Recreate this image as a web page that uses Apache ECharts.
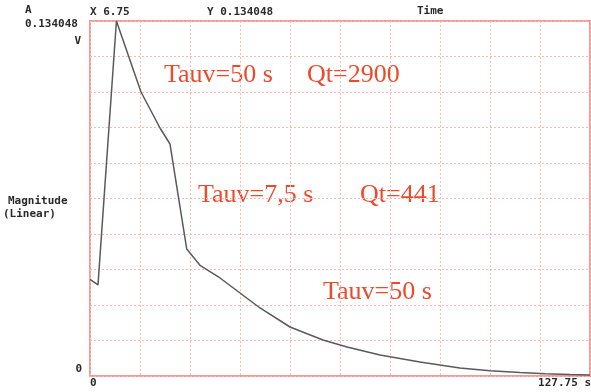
<!DOCTYPE html>
<html>
<head>
<meta charset="utf-8">
<script src="https://cdn.jsdelivr.net/npm/echarts@6/dist/echarts.min.js"></script>
<style>html,body{margin:0;padding:0;background:#fff}#c{width:591px;height:392px}</style>
</head>
<body>
<div id="c"></div>
<script>
// Time (s)
const timeValues = [0, 2.04, 6.75, 13.03, 17.89, 20.44, 24.71, 28.1, 33.22, 38.33, 43.44, 51.1, 59.53, 65.67, 74.1, 84.3, 94.5, 102.2, 109.9, 116.3, 122.6, 127.75];
// Magnitude (V)
const magnitudeValues = [0.0365, 0.0344, 0.134048, 0.10724, 0.09365, 0.0876, 0.04796, 0.04180, 0.03701, 0.03134, 0.02568, 0.0185, 0.01359, 0.01095, 0.00793, 0.00529, 0.00302, 0.00200, 0.00132, 0.00085, 0.00057, 0.0004];
const xMax = 127.75;
const yMax = 0.134048;
const headerLabels = ['A', '0.134048', 'V', 'X 6.75', 'Y 0.134048', 'Time'];
const yAxisTitle = ['Magnitude', '(Linear)'];
const tickLabels = ['0', '0', '127.75 s'];
const annotations = ['Tauv=50 s', 'Qt=2900', 'Tauv=7,5 s', 'Qt=441', 'Tauv=50 s'];

const chart = echarts.init(document.getElementById('c'));
const mono = {fontFamily: 'DejaVu Sans Mono', fontWeight: 'bold', fontSize: 11, fill: '#2a2a2a'};
const serif = {fontFamily: 'Liberation Serif', fontSize: 26, fill: '#ec4a2c'};
function mt(x, y, text, align) {
  return {type: 'text', x: x, y: y, style: Object.assign({text: text, align: align || 'left', verticalAlign: 'middle'}, mono)};
}
function st(x, y, text) {
  return {type: 'text', x: x, y: y, style: Object.assign({text: text, align: 'left', verticalAlign: 'top'}, serif)};
}
const data = timeValues.map((t, i) => [t, magnitudeValues[i]]);
chart.setOption({
  animation: false,
  backgroundColor: '#fff',
  grid: {left: 90, top: 21, width: 500, height: 355, show: true, borderColor: '#f49a9a', borderWidth: 2, backgroundColor: 'transparent'},
  xAxis: {
    type: 'value', min: 0, max: xMax, interval: xMax / 10,
    axisLine: {show: false}, axisTick: {show: false}, axisLabel: {show: false},
    splitLine: {show: true, lineStyle: {color: '#f7b8b8', type: [2, 2], width: 1}}
  },
  yAxis: {
    type: 'value', min: 0, max: yMax, interval: yMax / 10,
    axisLine: {show: false}, axisTick: {show: false}, axisLabel: {show: false},
    splitLine: {show: true, lineStyle: {color: '#f7b8b8', type: [2, 2], width: 1}}
  },
  series: [{
    type: 'line', data: data, showSymbol: false, smooth: false,
    lineStyle: {color: '#5a5a5a', width: 1.5}
  }],
  graphic: [
    mt(25, 10, headerLabels[0]),
    mt(25, 24, headerLabels[1]),
    mt(81, 41, headerLabels[2], 'right'),
    mt(90, 12, headerLabels[3]),
    mt(207, 12, headerLabels[4]),
    mt(417, 11, headerLabels[5]),
    mt(8, 201, yAxisTitle[0]),
    mt(3, 214, yAxisTitle[1]),
    mt(82, 369, tickLabels[0], 'right'),
    mt(90, 383, tickLabels[1]),
    mt(591, 383, tickLabels[2], 'right'),
    st(164, 62, annotations[0]),
    st(307, 62, annotations[1]),
    st(198, 182, annotations[2]),
    st(360, 182, annotations[3]),
    st(323, 279, annotations[4])
  ]
});
</script>
</body>
</html>
